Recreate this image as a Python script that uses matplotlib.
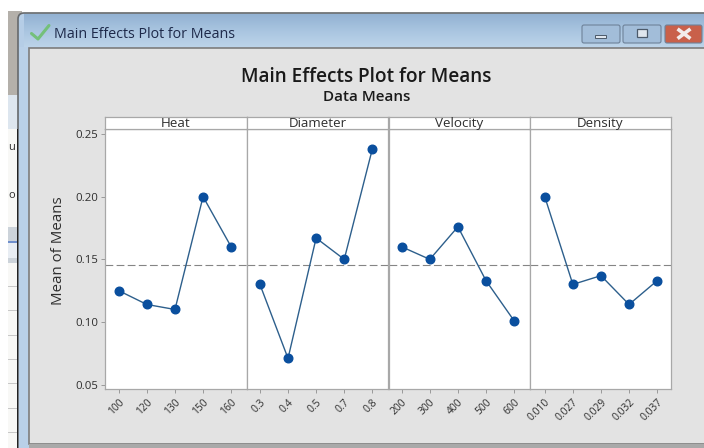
import matplotlib
matplotlib.use("Agg")
import matplotlib.pyplot as plt
from matplotlib.patches import Rectangle, FancyBboxPatch
from matplotlib.colors import LinearSegmentedColormap
import numpy as np

# valores
factores = ["Heat", "Diameter", "Velocity", "Density"]
heat_labels = ["100", "120", "130", "150", "160"]
heat_means = [0.125, 0.114, 0.110, 0.200, 0.160]
diameter_labels = ["0.3", "0.4", "0.5", "0.7", "0.8"]
diameter_means = [0.130, 0.071, 0.167, 0.150, 0.238]
velocity_labels = ["200", "300", "400", "500", "600"]
velocity_means = [0.160, 0.150, 0.176, 0.133, 0.101]
density_labels = ["0.010", "0.027", "0.029", "0.032", "0.037"]
density_means = [0.200, 0.130, 0.137, 0.114, 0.133]
media_global = 0.1457
y_ticks = [0.05, 0.10, 0.15, 0.20, 0.25]

W, H = 704, 448
GRIS = "#e3e3e3"
BORDE = "#a8a8a8"
AZUL = "#0a4f9e"
LINEA = "#2d5f8c"
TEXTO = "#2e2e2e"

plt.rcParams["font.family"] = ["Open Sans", "DejaVu Sans"]

fig = plt.figure(figsize=(W / 100, H / 100), dpi=100, facecolor="white")

# ── Ventana (fondo en pixeles) ──
bg = fig.add_axes([0, 0, 1, 1])
bg.set_xlim(0, W)
bg.set_ylim(H, 0)
bg.axis("off")

# lo que queda detras de la ventana
bg.add_patch(Rectangle((8, 11), 14, 84, color="#b4b0aa", lw=0))
bg.add_patch(Rectangle((8, 95), 10, 34, color="#dde6ef", lw=0))
bg.add_patch(Rectangle((8, 129), 10, 319, color="#f8f8f6", lw=0))
bg.add_patch(Rectangle((8, 227), 10, 36, color="#ccd3da", lw=0))
bg.add_patch(Rectangle((8, 241), 10, 2, color="#6f8fcc", lw=0))
bg.add_patch(Rectangle((8, 243), 10, 15, color="#e8edf3", lw=0))
for yy in [286, 310, 335, 359, 383, 408, 432]:
    bg.add_patch(Rectangle((8, yy), 10, 1, color="#c8c8c8", lw=0))
bg.text(12, 147, "u", fontsize=8, color=TEXTO, ha="center", va="center")
bg.text(12, 196, "o", fontsize=8, color=TEXTO, ha="center", va="center")

# marco azul de la ventana
grad = LinearSegmentedColormap.from_list("marco", ["#93b2d3", "#a9c5e0", "#bcd3e9"])
bg.add_patch(FancyBboxPatch((18, 13), 720, 460, boxstyle="round,pad=0,rounding_size=6",
                            fc="#b9d0e8", ec="#66696c", lw=1.2))
bg.imshow(np.linspace(0, 1, 30).reshape(-1, 1), cmap=grad, aspect="auto",
          extent=(24, W, 47, 14), zorder=1.5)
bg.add_patch(Rectangle((19, 20), 5, 27, color="#b5cde6", lw=0, zorder=1.6))
bg.set_xlim(0, W)
bg.set_ylim(H, 0)

# area gris
bg.add_patch(Rectangle((29, 48), 700, 396, fc=GRIS, ec="#7d7d7d", lw=1.2, zorder=2))
bg.add_patch(Rectangle((29, 444), W, 4, color="#a9a9a9", lw=0, zorder=3))
bg.add_patch(Rectangle((17, 129), 1, 319, color="#222222", lw=0, zorder=3.3))

# palomita verde y titulo de la ventana
bg.plot([31.5, 38, 49], [33.5, 39, 25.5], color="#74c07a", lw=2.2, solid_capstyle="round", zorder=4)
bg.text(54, 34, "Main Effects Plot for Means", fontsize=10.3, color="#1e2a4a",
        ha="left", va="center", zorder=4)

# botones de la ventana
for x0, ancho, color in [(582, 38, "#a2bdd9"), (623, 38, "#a2bdd9"), (665, 37, "#c9604a")]:
    bg.add_patch(FancyBboxPatch((x0, 25), ancho, 18, boxstyle="round,pad=0,rounding_size=2",
                                fc=color, ec="#6e8299", lw=0.8, zorder=4))
bg.add_patch(Rectangle((595, 35), 11, 3, fc="#dfe6ee", ec="#4c5a6a", lw=0.7, zorder=5))
bg.add_patch(Rectangle((637, 29.5), 10, 7.5, fc="#dfe6ee", ec="#4c5a6a", lw=0.9, zorder=5))
bg.plot([679, 689], [30, 37.5], color="#f3ecea", lw=2.6, zorder=5)
bg.plot([679, 689], [37.5, 30], color="#f3ecea", lw=2.6, zorder=5)

# titulos
bg.text(366, 77, "Main Effects Plot for Means", fontsize=13.7, fontweight="semibold",
        color="#1a1a1a", ha="center", va="center", zorder=4)
bg.text(367, 97, "Data Means", fontsize=11, fontweight="semibold",
        color="#1a1a1a", ha="center", va="center", zorder=4)
bg.text(58, 251, "Mean of Means", fontsize=10.8, color=TEXTO, rotation=90,
        ha="center", va="center", zorder=4)

# ── Paneles ──
valores = [heat_means, diameter_means, velocity_means, density_means]
etiquetas = [heat_labels, diameter_labels, velocity_labels, density_labels]
bordes = [105, 247, 388.5, 530, 671]
margen_izq = [-0.49, -0.46, -0.47, -0.525]
TOP, STRIP_BOT, BOT = 116.5, 129.5, 388.7

for i, factor in enumerate(factores):
    x0, x1 = bordes[i], bordes[i + 1]
    rect = [x0 / W, 1 - BOT / H, (x1 - x0) / W, (BOT - STRIP_BOT) / H]
    ax = fig.add_axes(rect, facecolor="white")
    x = np.arange(len(valores[i]))
    ax.plot(x, valores[i], color=LINEA, lw=1, marker="o", ms=6.2,
            mfc=AZUL, mec=AZUL, zorder=3)
    ax.axhline(media_global, color="#858585", lw=0.8, dashes=(7, 3), zorder=2)
    ax.set_xlim(margen_izq[i], margen_izq[i] + (x1 - x0) / 28.1)
    ax.set_ylim(0.0468, 0.2536)
    ax.set_xticks(x)
    ax.set_xticklabels(etiquetas[i], rotation=45, ha="right", rotation_mode="anchor",
                       fontsize=7.4, color=TEXTO)
    if i == 0:
        ax.set_yticks(y_ticks)
        ax.set_yticklabels([f"{v:.2f}" for v in y_ticks], fontsize=8.2, color=TEXTO)
        ax.tick_params(axis="y", length=3, width=0.7, color="#999999", pad=2)
    else:
        ax.set_yticks([])
    ax.tick_params(axis="x", length=3, width=0.7, color="#999999", pad=3)
    for s in ax.spines.values():
        s.set_color(BORDE)
        s.set_linewidth(0.9)

    # franja con el nombre del factor
    franja = fig.add_axes([x0 / W, 1 - STRIP_BOT / H, (x1 - x0) / W, (STRIP_BOT - TOP) / H],
                          facecolor="white")
    franja.set_xticks([])
    franja.set_yticks([])
    for s in franja.spines.values():
        s.set_color(BORDE)
        s.set_linewidth(0.9)
    franja.text(0.5, 0.5, factor, transform=franja.transAxes, fontsize=9.6,
                color=TEXTO, ha="center", va="center")

fig.savefig("out.png", dpi=100)
